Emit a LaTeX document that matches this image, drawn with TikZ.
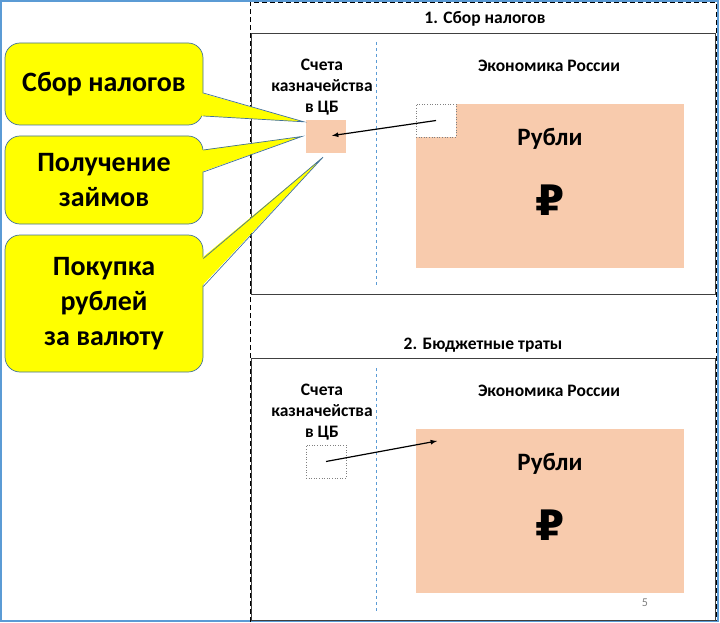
\documentclass[tikz,border=0pt]{standalone}
\usepackage{fontspec}
\setmainfont{Carlito}
\newfontfamily\signfont{DejaVu Sans}[BoldFont={DejaVu Sans Bold}]
\usetikzlibrary{arrows,calc}

\definecolor{peach}{HTML}{F8CBAD}
\definecolor{callyellow}{HTML}{FFFF00}
\definecolor{callborder}{HTML}{41719C}
\definecolor{sepblue}{HTML}{5B9BD5}
\definecolor{framegray}{HTML}{404040}

\tikzset{
  panel/.style={draw=framegray,line width=0.9pt,minimum width=464pt,inner sep=0pt},
  callout/.style={draw=callborder,fill=callyellow,rounded corners=15pt,line width=0.7pt,
    minimum width=198pt,align=center,font=\fontsize{28}{35}\selectfont\bfseries},
  small/.style={font=\fontsize{17.5}{21}\selectfont\bfseries,align=center},
  money/.style={fill=peach,minimum width=268pt,minimum height=164pt,inner sep=0pt},
  acct/.style={minimum width=40pt,minimum height=33pt,inner sep=0pt},
  hole/.style={acct,draw=gray,dotted,line width=0.6pt,fill=white}
}

\begin{document}
\begin{tikzpicture}[x=1pt,y=-1pt]
\useasboundingbox (0,0) rectangle (720,623);

% frames
\draw[sepblue,line width=1.5pt] (1,1) rectangle (718,621);
\draw[dash pattern=on 5pt off 3pt,line width=0.8pt] (250,622) -- (250,2) -- (716,2) -- (716,620) -- (250,620);

% panel 1
\node[panel,minimum height=261pt] (p1) at (483,163.5) {};
\node[small] (title1) at (485,19) {1. Сбор налогов};
\draw[sepblue,dashed,line width=0.8pt] (376,42) -- (376,287);
\node[small] (acct1) at (322,87) {Счета\\казначейства\\в ЦБ};
\node[small] (econ1) at (549,66) {Экономика России};
\node[money] (rub1) at (550,186) {};
\node[font=\fontsize{25}{28}\selectfont\bfseries] (lab1) at (550,139) {Рубли};
\node[font=\fontsize{42}{44}\selectfont\signfont\bfseries] (sign1) at (550,200) {₽};
\node[acct,fill=peach] (tsq1) at (326,136.5) {};
\node[hole] (dsq1) at (436,120.5) {};
\draw[-latex,line width=1.2pt,shorten >=6pt] (dsq1.center) -- (tsq1.center);

% panel 2
\node[panel,minimum height=262pt] (p2) at (483,489) {};
\node[small] (title2) at (483,345) {2. Бюджетные траты};
\draw[sepblue,dashed,line width=0.8pt] (376,368) -- (376,612);
\node[small] (acct2) at (322,412) {Счета\\казначейства\\в ЦБ};
\node[small] (econ2) at (549,391) {Экономика России};
\node[money] (rub2) at (550,510.5) {};
\node[font=\fontsize{25}{28}\selectfont\bfseries] (lab2) at (550,464) {Рубли};
\node[font=\fontsize{42}{44}\selectfont\signfont\bfseries] (sign2) at (550,525) {₽};
\node[hole] (tsq2) at (326,461.5) {};
\coordinate (in2) at (437,441);
\draw[-latex,line width=1.2pt] (tsq2.center) -- (in2);
\node[text=gray,font=\fontsize{12}{14}\selectfont] (page) at (645,603) {5};

% callouts
\node[callout,minimum height=82pt] (c1) at (104,84) {Сбор налогов};
\node[callout,minimum height=88pt] (c2) at (104,180) {Получение\\займов};
\node[callout,minimum height=137pt] (c3) at (104,303.5) {Покупка\\рублей\\за валюту};

\coordinate (t1) at ($(tsq1.north west)+(-2,2)$);
\coordinate (t2) at ($(tsq1.west)+(-4,0)$);
\coordinate (t3) at ($(tsq1.south)+(-3,4)$);

\foreach \c/\a/\b/\t in {c1/9/32/t1, c2/-30/-8/t2, c3/-45/-17/t3}{
  \fill[callyellow] ($(\c.east)+(-2,\a)$) -- (\t) -- ($(\c.east)+(-2,\b)$) -- cycle;
  \draw[callborder,line width=0.7pt] ($(\c.east)+(0,\a)$) -- (\t) -- ($(\c.east)+(0,\b)$);
}
\end{tikzpicture}
\end{document}
